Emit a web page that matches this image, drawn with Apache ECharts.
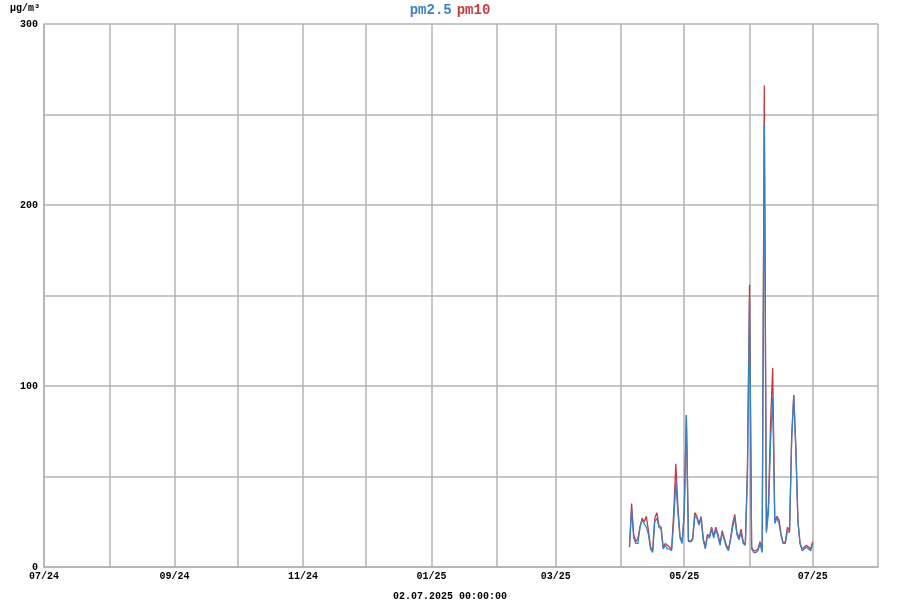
<!DOCTYPE html>
<html>
<head>
<meta charset="utf-8">
<script src="https://cdn.jsdelivr.net/npm/echarts@6/dist/echarts.min.js"></script>
<style>html,body{margin:0;padding:0;background:#fff}#c{width:900px;height:600px}</style>
</head>
<body>
<div id="c"></div>
<script>
// Daily values from 2025-04-05 to 2025-07-01
var startDate = '2025-04-05';
var pm25 = [11,32,16,13,13,22,26,24,22,18,10,8,25,27,22,21,10,12,10,10,9,25,47,30,16,13,30,84,14,14,15,28,27,23,27,15,10,17,16,21,16,21,17,12,19,15,11,9,15,22,27,18,15,19,13,12,50,148,10,8,8,9,13,8,245,19,30,70,94,24,27,24,17,13,13,20,19,70,95,65,25,13,9,10,11,10,9,13];
var pm10 = [11,35,18,14,16,22,27,25,28,20,11,9,27,30,23,22,11,13,12,11,10,30,57,33,17,14,30,84,15,14,16,30,28,24,28,16,11,18,17,22,17,22,18,13,20,16,12,10,16,24,29,19,16,21,14,12,55,156,11,9,9,10,14,9,266,20,35,80,110,25,28,26,18,13,14,22,20,72,95,65,25,13,10,11,12,11,10,14];
var monthTicks = ['2024-07-01','2024-08-01','2024-09-01','2024-10-01','2024-11-01','2024-12-01','2025-01-01','2025-02-01','2025-03-01','2025-04-01','2025-05-01','2025-06-01','2025-07-01','2025-08-01'];
var labelTicks = ['2024-07-01','2024-09-01','2024-11-01','2025-01-01','2025-03-01','2025-05-01','2025-07-01'];
var yTicks = [0,100,200,300];
var timestampText = '02.07.2025 00:00:00';

function toTs(s){var p=s.split('-');return Date.UTC(+p[0],+p[1]-1,+p[2]);}
var DAY = 86400000;
var t0 = toTs(startDate);
function build(arr){return arr.map(function(v,i){return [t0+i*DAY,v];});}

var font = '"Liberation Mono","DejaVu Sans Mono",monospace';
var gridColor = '#b3b3b3';
var blue = '#3a82c4', red = '#c63a3e';
var chart = echarts.init(document.getElementById('c'), null, {renderer:'canvas'});
chart.setOption({
  animation:false,
  backgroundColor:'#fff',
  title:{
    text:'{a|pm2.5} {b|pm10}',
    left:'center', top:1, padding:0,
    textStyle:{rich:{
      a:{color:blue,fontFamily:font,fontSize:14,fontWeight:'bold'},
      b:{color:red,fontFamily:font,fontSize:14,fontWeight:'bold'}
    }}
  },
  graphic:[{type:'text',left:'center',top:591,style:{text:timestampText,fill:'#000',font:'bold 10px '+font}}],
  grid:{left:44,right:22,top:24,bottom:33,containLabel:false},
  xAxis:{
    type:'value',
    min:toTs(monthTicks[0]), max:toTs(monthTicks[monthTicks.length-1]),
    axisLine:{show:true,lineStyle:{color:gridColor,width:1.5}},
    axisTick:{show:false,customValues:monthTicks.map(toTs)},
    axisLabel:{customValues:labelTicks.map(toTs),color:'#000',fontFamily:font,fontSize:10,fontWeight:'bold',margin:4,
      formatter:function(v){var d=new Date(v);var m=d.getUTCMonth()+1;return (m<10?'0':'')+m+'/'+String(d.getUTCFullYear()).slice(2);}},
    splitLine:{show:true,lineStyle:{color:gridColor,width:1.5}}
  },
  yAxis:{
    type:'value',min:0,max:300,interval:50,
    name:'µg/m³',nameLocation:'end',nameGap:11,
    nameTextStyle:{color:'#000',fontFamily:font,fontSize:10,fontWeight:'bold',align:'right',padding:[0,4,0,0]},
    axisLine:{show:true,lineStyle:{color:gridColor,width:1.5}},
    axisTick:{show:false},
    axisLabel:{color:'#000',fontFamily:font,fontSize:10,fontWeight:'bold',margin:6,
      formatter:function(v){return yTicks.indexOf(v)>=0?String(v):'';}},
    splitLine:{show:true,lineStyle:{color:gridColor,width:1.5}}
  },
  series:[
    {name:'pm10',type:'line',data:build(pm10),showSymbol:false,symbol:'none',lineStyle:{color:red,width:1.3},itemStyle:{color:red},z:2},
    {name:'pm2.5',type:'line',data:build(pm25),showSymbol:false,symbol:'none',lineStyle:{color:blue,width:1.3},itemStyle:{color:blue},z:3}
  ]
});
</script>
</body>
</html>
